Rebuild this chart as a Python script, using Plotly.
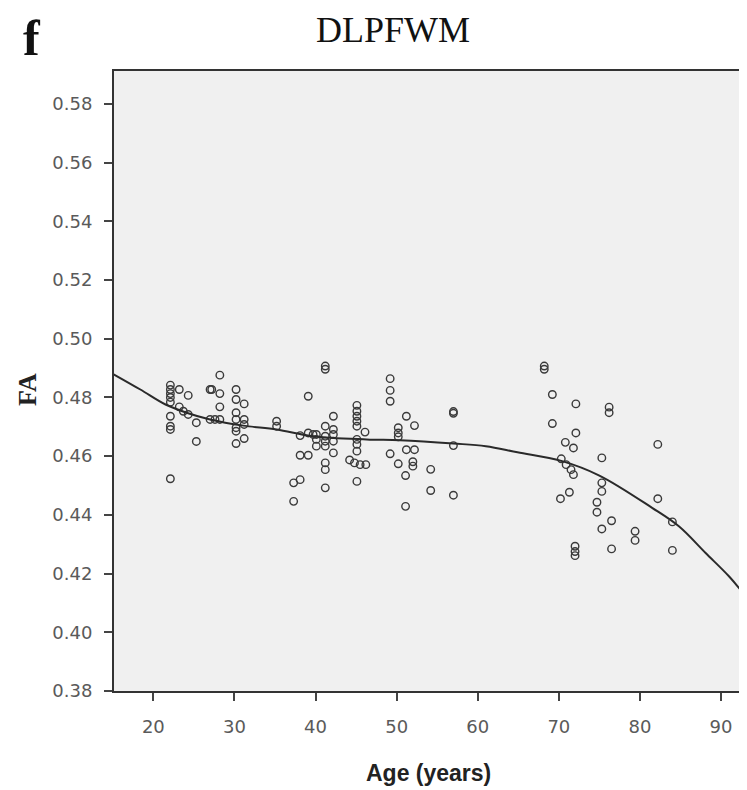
import plotly.graph_objects as go

# Scatter data: age (years) and FA
age = [22.1, 22.1, 22.1, 22.1, 22.1, 22.1, 22.1, 22.1, 22.1,
       23.2, 24.3, 23.2, 23.7, 24.3, 25.3, 25.3,
       27.0, 27.2, 28.2, 28.2, 28.2, 28.2, 27.0, 27.6,
       30.2, 30.2, 31.2, 30.2, 30.2, 31.2, 31.2, 30.2, 30.2, 30.2, 31.2,
       35.2, 35.2,
       39.1, 38.1, 39.1, 39.7, 40.1, 40.1, 40.1, 38.1, 39.1, 37.3, 38.1, 37.3,
       41.2, 41.2, 42.2, 41.2, 42.2, 41.2, 42.2, 41.2, 42.2, 41.2, 42.2, 41.2, 41.2, 41.2,
       45.1, 45.1, 45.1, 45.1, 45.1, 46.1, 45.1, 45.1, 45.1, 44.2, 44.8, 45.5, 46.2, 45.1,
       49.2, 49.2, 49.2, 50.2, 50.2, 50.2, 51.2, 52.2, 49.2, 51.2, 52.2, 50.2, 52.0, 52.0, 51.1, 51.1,
       54.2, 54.2, 57.0, 57.0, 57.0, 57.0,
       68.2, 68.2, 69.2, 69.2, 72.1, 76.2, 76.2, 72.1, 70.8, 71.8, 70.3, 70.9, 71.5, 71.8,
       75.3, 75.3, 75.3, 71.3, 70.2, 74.7, 74.7, 76.5, 75.3, 72.0, 72.0, 72.0, 76.5,
       79.4, 79.4, 82.2, 82.2, 84.0, 84.0]
fa = [0.4842, 0.4827, 0.4813, 0.4800, 0.4784, 0.4736, 0.4702, 0.4691, 0.4523,
      0.4827, 0.4807, 0.4768, 0.4753, 0.4742, 0.4714, 0.4650,
      0.4827, 0.4827, 0.4876, 0.4813, 0.4768, 0.4725, 0.4725, 0.4725,
      0.4827, 0.4793, 0.4778, 0.4748, 0.4725, 0.4725, 0.4708, 0.4697, 0.4685, 0.4643, 0.4660,
      0.4719, 0.4702,
      0.4804, 0.4670, 0.4679, 0.4674, 0.4674, 0.4657, 0.4634, 0.4603, 0.4603, 0.4509, 0.4520, 0.4446,
      0.4907, 0.4896, 0.4736, 0.4702, 0.4691, 0.4668, 0.4674, 0.4651, 0.4651, 0.4634, 0.4611, 0.4577, 0.4554, 0.4492,
      0.4773, 0.4753, 0.4736, 0.4719, 0.4702, 0.4682, 0.4657, 0.4640, 0.4617, 0.4587, 0.4577, 0.4571, 0.4571, 0.4514,
      0.4864, 0.4824, 0.4787, 0.4697, 0.4679, 0.4666, 0.4736, 0.4704, 0.4608, 0.4622, 0.4622, 0.4574, 0.4581, 0.4566, 0.4534, 0.4429,
      0.4555, 0.4483, 0.4746, 0.4752, 0.4636, 0.4467,
      0.4907, 0.4896, 0.4810, 0.4711, 0.4778, 0.4767, 0.4748, 0.4679, 0.4647, 0.4628, 0.4591, 0.4571, 0.4554, 0.4537,
      0.4594, 0.4509, 0.4480, 0.4477, 0.4455, 0.4443, 0.4409, 0.4380, 0.4352, 0.4293, 0.4275, 0.4261, 0.4284,
      0.4344, 0.4313, 0.4640, 0.4455, 0.4376, 0.4279]

# Fitted (loess) curve
fit_age = [15.1, 18.4, 21.5, 24.1, 27.0, 31.1, 35.2, 39.7, 46.3, 50.4,
           57.0, 61.0, 64.9, 70.3, 75.0, 81.5, 84.8, 88.1, 91.0, 93.2]
fit_fa = [0.4879, 0.4827, 0.4776, 0.4748, 0.4725, 0.4704, 0.4691, 0.4668, 0.4657, 0.4654,
          0.4643, 0.4634, 0.4613, 0.4584, 0.4534, 0.4424, 0.4361, 0.4270, 0.4190, 0.4117]

x_ticks = [20, 30, 40, 50, 60, 70, 80, 90]
y_ticks = [0.38, 0.40, 0.42, 0.44, 0.46, 0.48, 0.50, 0.52, 0.54, 0.56, 0.58]

# The page body has an 8px margin; figure is sized so the plot lands where the reference has it
BODY = 8
FIG_W, FIG_H = 739, 782
ML, MR, MT, MB = 106, 0, 63, 99

fig = go.Figure()
fig.add_trace(go.Scatter(
    x=age, y=fa, mode="markers",
    marker=dict(symbol="circle-open", size=7.5, color="#3a3a3a", line=dict(width=1.4)),
    showlegend=False, hoverinfo="skip"))
fig.add_trace(go.Scatter(
    x=fit_age, y=fit_fa, mode="lines", line=dict(color="#2a2a2a", width=2, shape="spline"),
    showlegend=False, hoverinfo="skip"))

tickfont = dict(family="DejaVu Sans, Arial, sans-serif", size=18, color="#5a5a5a")

fig.update_layout(
    width=FIG_W, height=FIG_H,
    margin=dict(l=ML, r=MR, t=MT, b=MB, autoexpand=False),
    paper_bgcolor="white", plot_bgcolor="#f0f0f0",
    xaxis=dict(range=[15.15, 93.2], tickvals=x_ticks, ticktext=[str(v) for v in x_ticks],
               showgrid=False, zeroline=False, showline=True, linecolor="#333333", linewidth=2,
               mirror=True, ticks="outside", ticklen=8, tickwidth=2, tickcolor="#444444",
               tickfont=tickfont, ticklabelstandoff=10),
    yaxis=dict(range=[0.38, 0.5912], tickvals=y_ticks, ticktext=["%.2f" % v for v in y_ticks],
               showgrid=False, zeroline=False, showline=True, linecolor="#333333", linewidth=2,
               ticks="outside", ticklen=8, tickwidth=2, tickcolor="#444444",
               tickfont=tickfont, ticklabelstandoff=8),
)

plot_w = FIG_W - ML - MR
plot_h = FIG_H - MT - MB

def px(page_x):
    return (page_x - BODY - ML) / plot_w

def py(page_y):
    return (FIG_H - MB - (page_y - BODY)) / plot_h

serif = "Liberation Serif, Times New Roman, serif"
sans = "Liberation Sans, Arial, sans-serif"

fig.add_annotation(text="DLPFWM", x=px(393), y=py(30), xref="paper", yref="paper",
                   showarrow=False, xanchor="center", yanchor="middle",
                   font=dict(family=serif, size=36, color="#111111"))
fig.add_annotation(text="<b>f</b>", x=px(32), y=py(38), xref="paper", yref="paper",
                   showarrow=False, xanchor="center", yanchor="middle",
                   font=dict(family=serif, size=50, color="#111111"))
fig.add_annotation(text="<b>FA</b>", x=px(27), y=py(390), xref="paper", yref="paper",
                   showarrow=False, xanchor="center", yanchor="middle", textangle=-90,
                   font=dict(family=serif, size=26, color="#222222"))
fig.add_annotation(text="<b>Age (years)</b>", x=px(428), y=py(773), xref="paper", yref="paper",
                   showarrow=False, xanchor="center", yanchor="middle",
                   font=dict(family=sans, size=23, color="#222222"))

fig.write_html("out.html")
